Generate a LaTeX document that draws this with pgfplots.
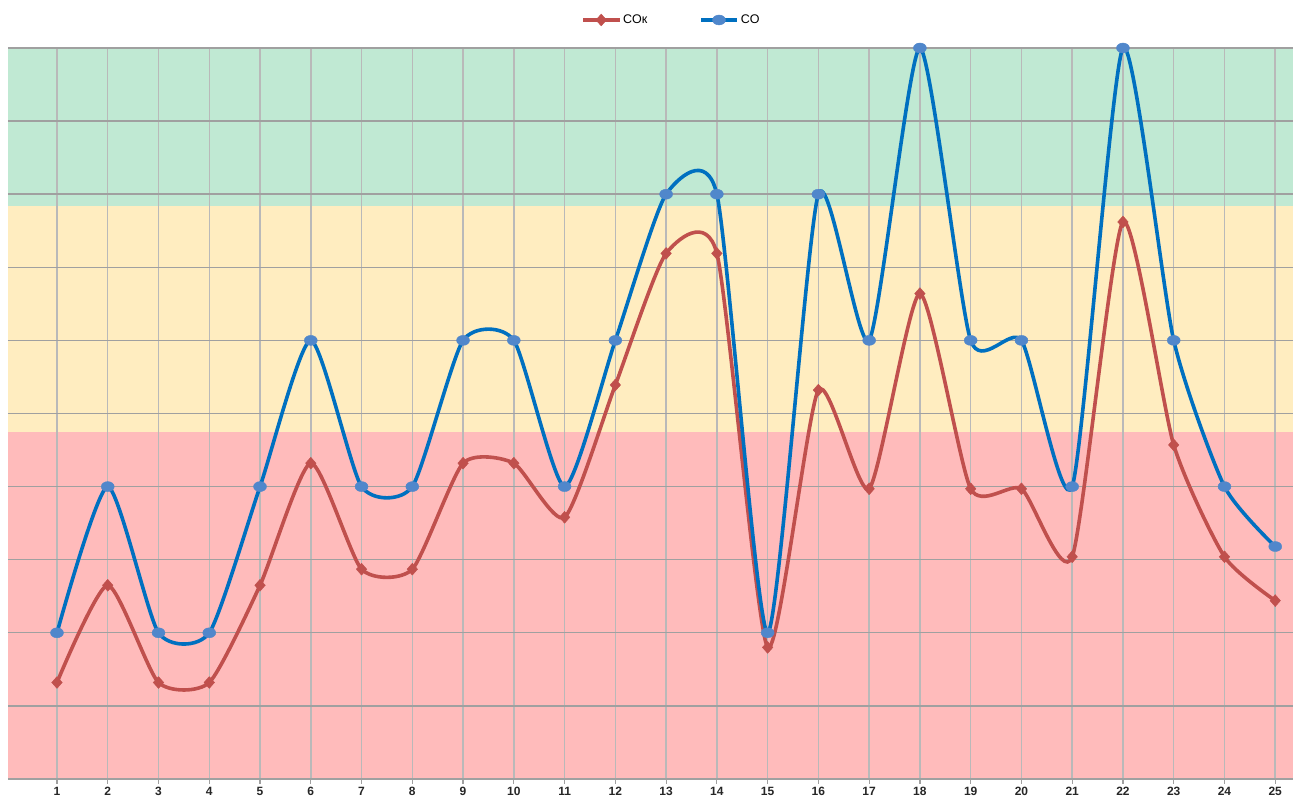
\documentclass[border=0pt]{standalone}
\usepackage{pgfplots}
\pgfplotsset{compat=1.18}
\usepackage{fontspec}
\setmainfont{Liberation Sans}
\definecolor{bandgreen}{RGB}{192,233,211}
\definecolor{bandyellow}{RGB}{255,237,192}
\definecolor{bandred}{RGB}{255,187,187}
\definecolor{redline}{RGB}{192,80,77}
\definecolor{blueline}{RGB}{0,112,192}
\definecolor{bluemark}{RGB}{80,135,203}
\definecolor{gridv}{RGB}{185,185,185}
\definecolor{gridh}{RGB}{160,160,160}
\begin{document}
\begin{tikzpicture}
\begin{axis}[
  name=ax, set layers,
  scale only axis, width=1285pt, height=731pt,
  xmin=0.035, xmax=25.35, ymin=0, ymax=10,
  xtick={1,...,25}, ytick={0,...,10}, yticklabels={},
  /pgf/number format/assume math mode=true,
  xtick pos=bottom, tick align=outside,
  major tick length=5pt,
  xtick style={draw=gridh, line width=1.2pt},
  ytick style={draw=none},
  axis line style={draw=none},
  grid=major,
  x grid style={draw=gridv, line width=1.5pt},
  y grid style={draw=gridh, line width=1.4pt},
  xticklabel style={font=\fontsize{12}{14}\selectfont\bfseries, text=black!85, yshift=0pt},
  legend columns=2,
  legend style={at={(0.5,1)}, anchor=center, xshift=21pt, yshift=28pt,
    draw=none, fill=none, font=\fontsize{12.5}{14}\selectfont,
    /tikz/every even column/.append style={column sep=50pt},
    inner sep=0pt},
  legend image code/.code={\draw[mark repeat=2,mark phase=2] plot coordinates {(0pt,0pt) (18pt,0pt) (36pt,0pt)};},
]
\begin{pgfonlayer}{axis background}
\fill[bandgreen] (axis cs:0.035,7.84) rectangle (axis cs:25.35,10);
\fill[bandyellow] (axis cs:0.035,4.74) rectangle (axis cs:25.35,7.84);
\fill[bandred] (axis cs:0.035,0) rectangle (axis cs:25.35,4.74);
\end{pgfonlayer}
\addplot[redline, line width=3.6pt, smooth, tension=0.37, mark=diamond*,
  mark size=7pt, mark options={fill=redline, draw=redline, line width=0.4pt, solid, yscale=0.85}]
  coordinates {(1,1.32) (2,2.65) (3,1.32) (4,1.32) (5,2.65) (6,4.32) (7,2.87) (8,2.87)
  (9,4.32) (10,4.32) (11,3.58) (12,5.39) (13,7.19) (14,7.19) (15,1.80) (16,5.32)
  (17,3.97) (18,6.64) (19,3.97) (20,3.97) (21,3.04) (22,7.62) (23,4.57) (24,3.04) (25,2.44)};
\addlegendentry{COк}
\addplot[blueline, line width=3.6pt, smooth, tension=0.37, mark=*,
  mark size=5pt, mark options={fill=bluemark, draw=bluemark, line width=0.4pt, solid, xscale=1.3}]
  coordinates {(1,2) (2,4) (3,2) (4,2) (5,4) (6,6) (7,4) (8,4) (9,6) (10,6) (11,4)
  (12,6) (13,8) (14,8) (15,2) (16,8) (17,6) (18,10) (19,6) (20,6) (21,4) (22,10)
  (23,6) (24,4) (25,3.18)};
\addlegendentry{CO}
\end{axis}
\pgfresetboundingbox
\useasboundingbox ([xshift=-8pt,yshift=-20pt]ax.south west) rectangle ([yshift=48pt]ax.north east);
\end{tikzpicture}
\end{document}
